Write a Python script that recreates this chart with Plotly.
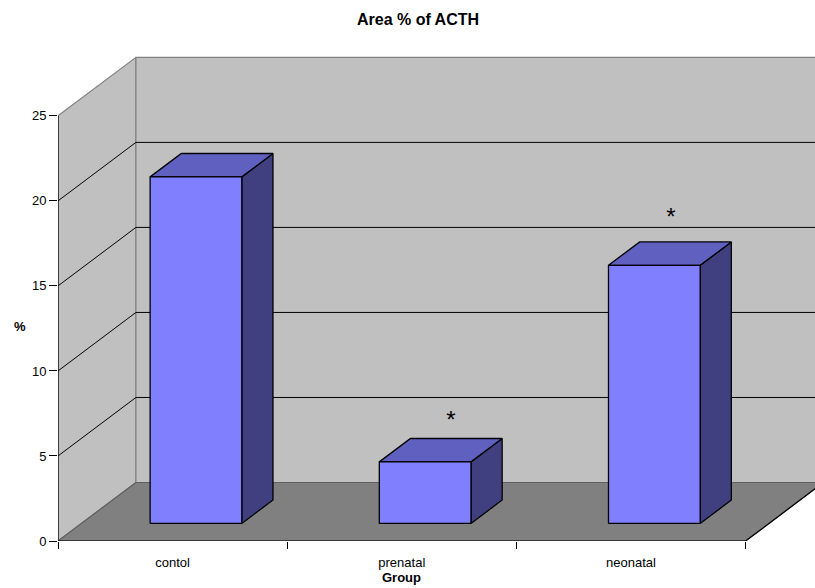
import plotly.graph_objects as go

# Chart data
categories = ["contol", "prenatal", "neonatal"]
area_percent = [20.38, 3.62, 15.18]
starred = [False, True, True]
star_shift_x = [0.0, 0.044, 0.004]
star_shift_y = [0.0, 1.68, 2.06]
value_ticks = [0, 5, 10, 15, 20, 25]

# Oblique projection: how far one full unit of depth shifts a point on each axis
DEPTH_X = 0.34
DEPTH_Y = 3.44
GAP_WIDTH = 1.5
BAR_WIDTH = 1 / (1 + GAP_WIDTH)
BAR_DEPTH = (0.3, 0.7)
Y_MAX = value_ticks[-1]
X_MAX = len(categories)

# Plot-area placement within the page, in pixels
LEFT, RIGHT, TOP_M, BOTTOM = 57.5, 0, 50.5, 46.5
PLOT_W = 815 - LEFT - RIGHT
PLOT_H = 588 - TOP_M - BOTTOM

FONT = "Liberation Sans"
WALL = "#C0C0C0"
FLOOR = "#808080"
EDGE = "#808080"
FRONT = "#8080FF"
TOP = "#6060C0"
SIDE = "#404080"


def project(x, v, d):
    return x + d * DEPTH_X, v + d * DEPTH_Y


def polygon(points, fill, line_color, line_width):
    xs, ys = zip(*[project(*p) for p in points + points[:1]])
    return go.Scatter(x=xs, y=ys, mode="lines", fill="toself", fillcolor=fill,
                      line=dict(color=line_color, width=line_width),
                      hoverinfo="skip", showlegend=False)


def polyline(points, color, width):
    xs, ys = zip(*[project(*p) for p in points])
    return go.Scatter(x=xs, y=ys, mode="lines", line=dict(color=color, width=width),
                      hoverinfo="skip", showlegend=False)


fig = go.Figure()

# Walls and floor
fig.add_trace(polygon([(0, 0, 0), (0, Y_MAX, 0), (0, Y_MAX, 1), (0, 0, 1)], WALL, EDGE, 1.2))
fig.add_trace(polygon([(0, 0, 1), (0, Y_MAX, 1), (X_MAX, Y_MAX, 1), (X_MAX, 0, 1)], WALL, EDGE, 1.2))
fig.add_trace(polygon([(0, 0, 0), (X_MAX, 0, 0), (X_MAX, 0, 1), (0, 0, 1)], FLOOR, "#606060", 1.2))

# Gridlines run across the side wall and the back wall
for v in value_ticks[1:-1]:
    fig.add_trace(polyline([(0, v, 0), (0, v, 1), (X_MAX, v, 1)], "black", 1))

# Bars as three visible faces of a box
d0, d1 = BAR_DEPTH
for i, value in enumerate(area_percent):
    x0 = i + (1 - BAR_WIDTH) / 2
    x1 = x0 + BAR_WIDTH
    fig.add_trace(polygon([(x1, 0, d0), (x1, value, d0), (x1, value, d1), (x1, 0, d1)], SIDE, "black", 1.3))
    fig.add_trace(polygon([(x0, value, d0), (x1, value, d0), (x1, value, d1), (x0, value, d1)], TOP, "black", 1.3))
    fig.add_trace(polygon([(x0, 0, d0), (x1, 0, d0), (x1, value, d0), (x0, value, d0)], FRONT, "black", 1.3))

# Front axis lines and the floor's right edge
fig.add_trace(polyline([(0, Y_MAX, 0), (0, 0, 0), (X_MAX, 0, 0), (X_MAX, 0, 1)], "black", 1.2))

# Significance markers above the starred bars
star_x, star_y, star_text = [], [], []
for i, (value, flag) in enumerate(zip(area_percent, starred)):
    if flag:
        sx, sy = project(i + 0.5, value, 0.5)
        star_x.append(sx + star_shift_x[i])
        star_y.append(sy + star_shift_y[i])
        star_text.append("*")
fig.add_trace(go.Scatter(x=star_x, y=star_y, mode="text", text=star_text,
                         textfont=dict(family=FONT, size=24, color="black"),
                         hoverinfo="skip", showlegend=False))

fig.update_layout(
    width=815, height=588,
    margin=dict(l=LEFT, r=RIGHT, t=TOP_M, b=BOTTOM),
    paper_bgcolor="white", plot_bgcolor="white",
    showlegend=False,
    font=dict(family=FONT, size=13, color="black"),
    title=dict(text="<b>Area % of ACTH</b>", x=418 / 815, xanchor="center",
               y=1 - 19 / 588, yanchor="middle", font=dict(family=FONT, size=16)),
    xaxis=dict(
        range=[0, PLOT_W / 229.33], showgrid=False, zeroline=False, showline=False,
        tickmode="array", tickvals=[i + 0.5 for i in range(len(categories))],
        ticktext=categories, ticks="outside", ticklen=0, ticklabelstandoff=9,
        minor=dict(tickmode="array", tickvals=list(range(X_MAX + 1)), ticks="outside",
                   ticklen=7, tickwidth=1, tickcolor="black"),
    ),
    yaxis=dict(
        range=[0, PLOT_H / 17.04], showgrid=False, zeroline=False, showline=False,
        tickmode="array", tickvals=value_ticks, ticks="outside", ticklen=8,
        tickwidth=1, tickcolor="black",
    ),
    annotations=[
        dict(text="<b>%</b>", xref="paper", yref="paper", xanchor="center", yanchor="middle",
             x=(19 - LEFT) / PLOT_W, y=(541.5 - 327) / PLOT_H,
             showarrow=False, font=dict(size=13)),
        dict(text="<b>Group</b>", xref="x", yref="paper", xanchor="center", yanchor="middle",
             x=1.5, y=(541.5 - 578) / PLOT_H,
             showarrow=False, font=dict(size=13)),
    ],
)

fig.write_html("out.html")
